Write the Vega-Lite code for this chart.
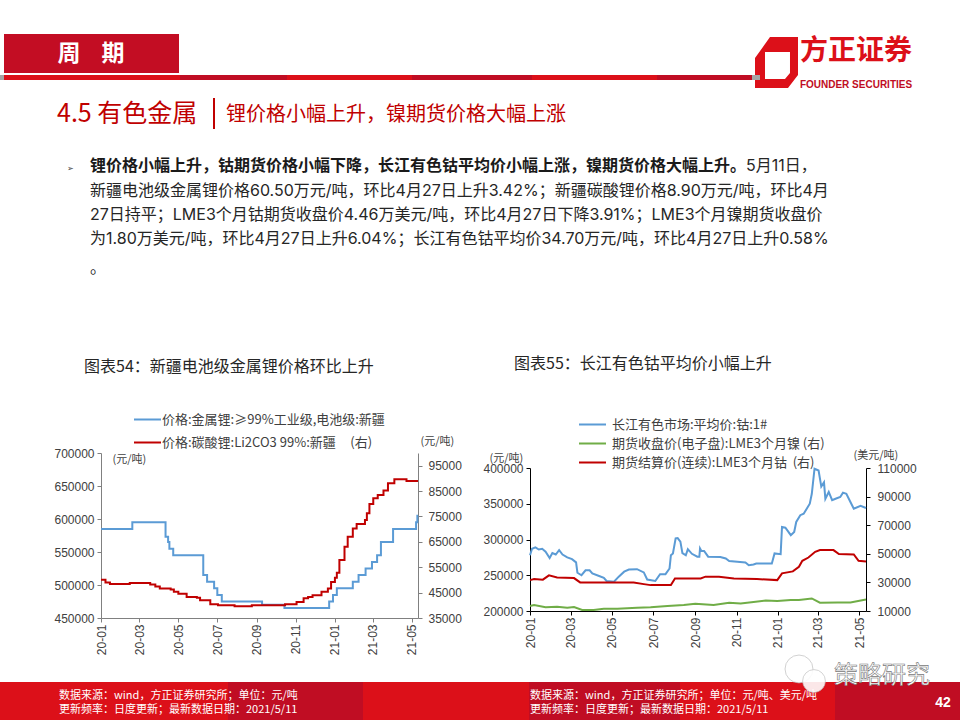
{
"$schema":"https://vega.github.io/schema/vega-lite/v6.json",
"padding":0,"background":"white","columns":4,"spacing":0,"bounds":"flush","align":"each",
"resolve":{"scale":{"color":"independent"},"legend":{"color":"independent"}},
"config":{"view":{"stroke":null},"font":"Noto Sans CJK SC","axis":{"grid":false,"labelFont":"Liberation Sans","labelFontSize":12,"labelColor":"#404040","labelOverlap":false,"labelFlush":false,"titleFont":"Noto Sans CJK SC","titleFontSize":11,"titleFontWeight":"normal","titleColor":"#404040","titleAngle":0,"titleAlign":"left","titleBaseline":"middle","tickSize":4},"legend":{"labelFont":"Noto Sans CJK SC","labelFontSize":13,"labelColor":"#404040","labelLimit":400,"symbolType":"stroke","symbolSize":729,"symbolStrokeWidth":2,"title":null}},
"datasets":{
"blank":[{}],
"li":[
{"date":"2020/01/01","series":"m","value":585000},{"date":"2020/02/19","series":"m","value":595000},{"date":"2020/04/11","series":"m","value":573000},{"date":"2020/04/15","series":"m","value":565000},{"date":"2020/04/17","series":"m","value":555000},{"date":"2020/04/23","series":"m","value":545000},{"date":"2020/06/09","series":"m","value":515000},{"date":"2020/06/15","series":"m","value":505000},{"date":"2020/06/26","series":"m","value":495000},{"date":"2020/07/01","series":"m","value":485000},{"date":"2020/07/08","series":"m","value":475000},{"date":"2020/09/09","series":"m","value":470000},{"date":"2020/10/14","series":"m","value":465000},{"date":"2020/12/23","series":"m","value":475000},{"date":"2020/12/29","series":"m","value":485000},{"date":"2021/01/04","series":"m","value":495000},{"date":"2021/01/29","series":"m","value":505000},{"date":"2021/02/07","series":"m","value":515000},{"date":"2021/02/18","series":"m","value":525000},{"date":"2021/02/28","series":"m","value":535000},{"date":"2021/03/08","series":"m","value":545000},{"date":"2021/03/14","series":"m","value":565000},{"date":"2021/04/02","series":"m","value":585000},{"date":"2021/05/08","series":"m","value":595000},{"date":"2021/05/10","series":"m","value":605000},{"date":"2021/05/11","series":"m","value":605000},
{"date":"2020/01/01","series":"c","value":50100},{"date":"2020/01/08","series":"c","value":49000},{"date":"2020/01/15","series":"c","value":48400},{"date":"2020/02/15","series":"c","value":48800},{"date":"2020/03/18","series":"c","value":48200},{"date":"2020/03/26","series":"c","value":47400},{"date":"2020/04/02","series":"c","value":46600},{"date":"2020/04/19","series":"c","value":46200},{"date":"2020/04/24","series":"c","value":45300},{"date":"2020/05/01","series":"c","value":44600},{"date":"2020/05/14","series":"c","value":43300},{"date":"2020/05/30","series":"c","value":43000},{"date":"2020/06/04","series":"c","value":42000},{"date":"2020/06/20","series":"c","value":40400},{"date":"2020/07/02","series":"c","value":40000},{"date":"2020/07/28","series":"c","value":39600},{"date":"2020/08/24","series":"c","value":40000},{"date":"2020/10/15","series":"c","value":40400},{"date":"2020/11/02","series":"c","value":41300},{"date":"2020/11/13","series":"c","value":42800},{"date":"2020/11/20","series":"c","value":43300},{"date":"2020/11/27","series":"c","value":44000},{"date":"2020/12/11","series":"c","value":45300},{"date":"2020/12/21","series":"c","value":46600},{"date":"2020/12/26","series":"c","value":49200},{"date":"2021/01/01","series":"c","value":50900},{"date":"2021/01/04","series":"c","value":52800},{"date":"2021/01/08","series":"c","value":57800},{"date":"2021/01/16","series":"c","value":63100},{"date":"2021/01/21","series":"c","value":67000},{"date":"2021/01/29","series":"c","value":70300},{"date":"2021/02/04","series":"c","value":72000},{"date":"2021/02/17","series":"c","value":73600},{"date":"2021/02/20","series":"c","value":76300},{"date":"2021/02/24","series":"c","value":79900},{"date":"2021/03/02","series":"c","value":82200},{"date":"2021/03/09","series":"c","value":83500},{"date":"2021/03/18","series":"c","value":85200},{"date":"2021/03/25","series":"c","value":88100},{"date":"2021/04/04","series":"c","value":89700},{"date":"2021/04/23","series":"c","value":89000},{"date":"2021/05/11","series":"c","value":89000}],
"cobalt":[
{"date":"2020/01/01","value":278000},{"date":"2020/01/04","value":287000},{"date":"2020/01/09","value":289000},{"date":"2020/01/14","value":286000},{"date":"2020/01/19","value":287000},{"date":"2020/01/24","value":283000},{"date":"2020/01/30","value":274000},{"date":"2020/02/03","value":281000},{"date":"2020/02/08","value":279000},{"date":"2020/02/13","value":285000},{"date":"2020/02/18","value":279000},{"date":"2020/02/25","value":275000},{"date":"2020/03/03","value":272500},{"date":"2020/03/09","value":268000},{"date":"2020/03/11","value":253500},{"date":"2020/03/17","value":250000},{"date":"2020/03/23","value":257000},{"date":"2020/03/29","value":257000},{"date":"2020/04/02","value":252500},{"date":"2020/04/12","value":249000},{"date":"2020/04/19","value":246500},{"date":"2020/04/23","value":242000},{"date":"2020/05/04","value":241000},{"date":"2020/05/11","value":248000},{"date":"2020/05/19","value":255000},{"date":"2020/05/26","value":258000},{"date":"2020/06/07","value":258500},{"date":"2020/06/17","value":254000},{"date":"2020/06/22","value":244000},{"date":"2020/07/04","value":242000},{"date":"2020/07/11","value":251500},{"date":"2020/07/19","value":251500},{"date":"2020/07/25","value":259500},{"date":"2020/07/27","value":278000},{"date":"2020/07/30","value":280500},{"date":"2020/08/03","value":301500},{"date":"2020/08/06","value":302000},{"date":"2020/08/10","value":297000},{"date":"2020/08/13","value":281000},{"date":"2020/08/18","value":278000},{"date":"2020/08/21","value":286500},{"date":"2020/08/27","value":280000},{"date":"2020/09/04","value":276000},{"date":"2020/09/07","value":276000},{"date":"2020/09/08","value":287500},{"date":"2020/09/10","value":284000},{"date":"2020/09/14","value":284000},{"date":"2020/09/20","value":276000},{"date":"2020/10/08","value":275500},{"date":"2020/10/16","value":273500},{"date":"2020/10/21","value":270000},{"date":"2020/11/02","value":269000},{"date":"2020/11/14","value":268000},{"date":"2020/11/19","value":264000},{"date":"2020/11/26","value":265000},{"date":"2020/11/30","value":266500},{"date":"2020/12/23","value":266500},{"date":"2020/12/27","value":280500},{"date":"2021/01/05","value":279500},{"date":"2021/01/07","value":317500},{"date":"2021/01/12","value":316500},{"date":"2021/01/20","value":306000},{"date":"2021/01/25","value":310500},{"date":"2021/01/28","value":324500},{"date":"2021/02/03","value":334000},{"date":"2021/02/08","value":336000},{"date":"2021/02/17","value":350000},{"date":"2021/02/20","value":364000},{"date":"2021/02/24","value":399000},{"date":"2021/03/02","value":396500},{"date":"2021/03/06","value":374000},{"date":"2021/03/10","value":380000},{"date":"2021/03/12","value":357000},{"date":"2021/03/17","value":366500},{"date":"2021/03/22","value":355000},{"date":"2021/03/27","value":357000},{"date":"2021/04/03","value":359500},{"date":"2021/04/07","value":365500},{"date":"2021/04/12","value":364000},{"date":"2021/04/18","value":352500},{"date":"2021/04/23","value":343000},{"date":"2021/05/03","value":347000},{"date":"2021/05/11","value":344000}],
"lme":[
{"date":"2020/01/01","series":"n","value":13500},{"date":"2020/01/07","series":"n","value":14200},{"date":"2020/01/24","series":"n","value":12600},{"date":"2020/02/10","series":"n","value":13000},{"date":"2020/02/25","series":"n","value":12300},{"date":"2020/03/06","series":"n","value":12800},{"date":"2020/03/18","series":"n","value":10700},{"date":"2020/04/04","series":"n","value":10700},{"date":"2020/04/19","series":"n","value":11600},{"date":"2020/05/09","series":"n","value":11600},{"date":"2020/06/07","series":"n","value":12300},{"date":"2020/06/27","series":"n","value":12600},{"date":"2020/07/22","series":"n","value":13500},{"date":"2020/08/15","series":"n","value":14200},{"date":"2020/09/01","series":"n","value":15100},{"date":"2020/09/28","series":"n","value":14200},{"date":"2020/10/21","series":"n","value":15800},{"date":"2020/11/07","series":"n","value":15300},{"date":"2020/11/26","series":"n","value":16300},{"date":"2020/12/14","series":"n","value":17400},{"date":"2020/12/31","series":"n","value":17000},{"date":"2021/01/20","series":"n","value":17700},{"date":"2021/02/01","series":"n","value":17700},{"date":"2021/02/20","series":"n","value":18800},{"date":"2021/03/04","series":"n","value":15800},{"date":"2021/03/30","series":"n","value":16000},{"date":"2021/04/18","series":"n","value":16000},{"date":"2021/05/11","series":"n","value":18000},
{"date":"2020/01/01","series":"s","value":31600},{"date":"2020/01/07","series":"s","value":32300},{"date":"2020/01/20","series":"s","value":31900},{"date":"2020/01/29","series":"s","value":34900},{"date":"2020/02/10","series":"s","value":33500},{"date":"2020/03/06","series":"s","value":33000},{"date":"2020/03/15","series":"s","value":30000},{"date":"2020/06/02","series":"s","value":30000},{"date":"2020/06/17","series":"s","value":28800},{"date":"2020/06/27","series":"s","value":28100},{"date":"2020/07/27","series":"s","value":28100},{"date":"2020/08/02","series":"s","value":32800},{"date":"2020/09/09","series":"s","value":32800},{"date":"2020/09/16","series":"s","value":34000},{"date":"2020/10/06","series":"s","value":34000},{"date":"2020/10/28","series":"s","value":32800},{"date":"2020/12/01","series":"s","value":32300},{"date":"2020/12/31","series":"s","value":31600},{"date":"2021/01/07","series":"s","value":36300},{"date":"2021/01/23","series":"s","value":37700},{"date":"2021/02/01","series":"s","value":40900},{"date":"2021/02/06","series":"s","value":45100},{"date":"2021/02/15","series":"s","value":47400},{"date":"2021/02/25","series":"s","value":51400},{"date":"2021/03/04","series":"s","value":52600},{"date":"2021/03/24","series":"s","value":52600},{"date":"2021/04/01","series":"s","value":49800},{"date":"2021/04/23","series":"s","value":49500},{"date":"2021/04/30","series":"s","value":45100},{"date":"2021/05/11","series":"s","value":44600}]
},
"concat":[
{"width":101,"height":453,"data":{"name":"blank"},"layer":[
{"mark":{"type":"rect","x":0,"x2":960,"y":0,"y2":720,"fill":"white"}},
{"mark":{"type":"rect","x":4,"x2":179,"y":34,"y2":73,"fill":"#C30D23"}},
{"mark":{"type":"text","x":91,"y":54,"text":"周\u00a0\u00a0\u00a0\u00a0期","fontSize":23,"fontWeight":"bold","fill":"white","align":"center","baseline":"middle"}},
{"mark":{"type":"rect","x":4,"x2":180,"y":75,"y2":80,"fill":"#DC1019"}},
{"mark":{"type":"rect","x":180,"x2":287,"y":75,"y2":80,"fill":"#C00D23"}},
{"mark":{"type":"rect","x":287,"x2":412,"y":75,"y2":80,"fill":"#DC1019"}},
{"mark":{"type":"rect","x":412,"x2":532,"y":75,"y2":80,"fill":"#C00D23"}},
{"mark":{"type":"rect","x":532,"x2":657,"y":75,"y2":80,"fill":"#DC1019"}},
{"mark":{"type":"rect","x":657,"x2":752,"y":75,"y2":80,"fill":"#C00D23"}},
{"mark":{"type":"rect","x":0,"x2":4,"y":75,"y2":80,"fill":"#A6A6A6"}},
{"mark":{"type":"point","shape":"M-.255,-1L.843,-1L.843,.49L.451,1L-.843,1L-.843,-.176ZM-.451,-.412L-.451,.647L.333,.647L.529,.412L.529,-.412Z","filled":true,"fill":"#DC1019","opacity":1,"stroke":null,"x":776.5,"y":62.5,"size":2601}},
{"mark":{"type":"rect","x":752,"x2":760,"y":75,"y2":80,"fill":"#A6A6A6"}},
{"mark":{"type":"text","x":856,"y":52,"text":"方正证券","fontSize":28,"fontWeight":"bold","fill":"#DC1019","align":"center","baseline":"middle"}},
{"mark":{"type":"text","x":856,"y":85,"text":"FOUNDER SECURITIES","font":"Liberation Sans","fontSize":10,"fontWeight":"bold","fill":"#C00D23","align":"center","baseline":"middle"}},
{"mark":{"type":"text","x":57,"y":114,"text":"4.5 有色金属","fontSize":25,"fill":"#C00000","align":"left","baseline":"middle"}},
{"mark":{"type":"rect","x":213,"x2":215,"y":98,"y2":129,"fill":"#C00000"}},
{"mark":{"type":"text","x":226,"y":115,"text":"锂价格小幅上升，镍期货价格大幅上涨","fontSize":20,"fill":"#C00000","align":"left","baseline":"middle"}},
{"mark":{"type":"text","x":70,"y":169,"text":"➢","fontSize":8,"fill":"#404040","align":"center","baseline":"middle"}},
{"mark":{"type":"text","x":90,"y":166,"text":"锂价格小幅上升，钴期货价格小幅下降，长江有色钴平均价小幅上涨，镍期货价格大幅上升。","fontSize":16,"fontWeight":"bold","fill":"#1a1a1a","align":"left","baseline":"middle"}},
{"mark":{"type":"text","x":746,"y":166,"text":"5月11日，","font":"Inter, Noto Sans CJK SC","fontSize":16,"fill":"#262626","align":"left","baseline":"middle"}},
{"mark":{"type":"text","x":90,"y":190.5,"text":"新疆电池级金属锂价格60.50万元/吨，环比4月27日上升3.42%；新疆碳酸锂价格8.90万元/吨，环比4月","font":"Inter, Noto Sans CJK SC","fontSize":16,"fill":"#262626","align":"left","baseline":"middle"}},
{"mark":{"type":"text","x":90,"y":215,"text":"27日持平；LME3个月钴期货收盘价4.46万美元/吨，环比4月27日下降3.91%；LME3个月镍期货收盘价","font":"Inter, Noto Sans CJK SC","fontSize":16,"fill":"#262626","align":"left","baseline":"middle"}},
{"mark":{"type":"text","x":90,"y":239,"text":"为1.80万美元/吨，环比4月27日上升6.04%；长江有色钴平均价34.70万元/吨，环比4月27日上升0.58%","font":"Inter, Noto Sans CJK SC","fontSize":16,"fill":"#262626","align":"left","baseline":"middle"}},
{"mark":{"type":"text","x":90,"y":268,"text":"。","fontSize":16,"fill":"#262626","align":"left","baseline":"middle"}},
{"mark":{"type":"text","x":84,"y":367,"text":"图表54：新疆电池级金属锂价格环比上升","fontSize":16,"fill":"#262626","align":"left","baseline":"middle"}},
{"mark":{"type":"text","x":514,"y":364,"text":"图表55：长江有色钴平均价小幅上升","fontSize":16,"fill":"#262626","align":"left","baseline":"middle"}},
{"mark":{"type":"rect","x":0,"x2":960,"y":682,"y2":720,"fill":"#DC1019"}},
{"mark":{"type":"rect","x":228,"x2":363,"y":682,"y2":720,"fill":"#C00D23"}},
{"mark":{"type":"rect","x":529,"x2":680,"y":682,"y2":720,"fill":"#C00D23"}},
{"mark":{"type":"rect","x":835,"x2":960,"y":682,"y2":720,"fill":"#C00D23"}},
{"mark":{"type":"text","x":59,"y":696,"text":"数据来源：wind，方正证券研究所；单位：元/吨","fontSize":11,"fill":"white","align":"left","baseline":"middle"}},
{"mark":{"type":"text","x":59,"y":710,"text":"更新频率：日度更新；最新数据日期：2021/5/11","fontSize":11,"fill":"white","align":"left","baseline":"middle"}},
{"mark":{"type":"text","x":530,"y":696,"text":"数据来源：wind，方正证券研究所；单位：元/吨、美元/吨","fontSize":11,"fill":"white","align":"left","baseline":"middle"}},
{"mark":{"type":"text","x":530,"y":710,"text":"更新频率：日度更新；最新数据日期：2021/5/11","fontSize":11,"fill":"white","align":"left","baseline":"middle"}},
{"mark":{"type":"text","x":943,"y":703,"text":"42","font":"Liberation Sans","fontSize":14,"fontWeight":"bold","fill":"white","align":"center","baseline":"middle"}},
{"mark":{"type":"point","shape":"circle","filled":true,"fill":"white","stroke":"#BBBBBB","strokeWidth":0.7,"opacity":0.95,"x":799,"y":669,"size":780}},
{"mark":{"type":"point","shape":"circle","filled":true,"fill":"white","stroke":"#BBBBBB","strokeWidth":0.7,"opacity":0.9,"x":814,"y":681,"size":520}},
{"mark":{"type":"text","x":834,"y":676,"text":"策略研究","fontSize":24,"fill":"white","stroke":"#777777","strokeWidth":0.6,"align":"left","baseline":"middle"}}
]},
{"width":1,"height":1,"data":{"name":"blank"},"mark":{"type":"rect","opacity":0},"encoding":{}},
{"width":1,"height":1,"data":{"name":"blank"},"mark":{"type":"rect","opacity":0},"encoding":{}},
{"width":1,"height":1,"data":{"name":"blank"},"mark":{"type":"rect","opacity":0},"encoding":{}},
{"width":101,"height":165,"data":{"name":"blank"},"mark":{"type":"rect","opacity":0},"encoding":{}},
{"width":317,"height":165,"data":{"name":"li"},
"encoding":{"x":{"field":"date","type":"temporal","axis":{"title":null,"format":"%y-%m","tickCount":{"interval":"month","step":2},"labelAngle":270,"labelAlign":"right","labelBaseline":"middle","labelPadding":2,"domainColor":"#808080","tickColor":"#808080"}},
"color":{"field":"series","type":"nominal","scale":{"domain":["价格:金属锂:≥99%工业级,电池级:新疆","价格:碳酸锂:Li2CO3 99%:新疆\u00a0\u00a0\u00a0\u00a0\u00a0(右)"],"range":["#5B9BD5","#C00000"]},"legend":{"orient":"none","legendX":32,"legendY":-48,"rowPadding":1,"labelOffset":0}}},
"layer":[
{"transform":[{"filter":"datum.series==='m'"},{"calculate":"'价格:金属锂:≥99%工业级,电池级:新疆'","as":"series"}],"mark":{"type":"line","strokeWidth":2,"interpolate":"step-after"},"encoding":{"y":{"field":"value","type":"quantitative","scale":{"domain":[450000,700000],"nice":false,"zero":false},"axis":{"title":"(元/吨)","titleX":11,"titleY":6,"format":"d","values":[450000,500000,550000,600000,650000,700000],"domainColor":"#808080","tickColor":"#808080","labelPadding":3}}}},
{"transform":[{"filter":"datum.series==='c'"},{"calculate":"'价格:碳酸锂:Li2CO3 99%:新疆\u00a0\u00a0\u00a0\u00a0\u00a0(右)'","as":"series"}],"mark":{"type":"line","strokeWidth":2,"interpolate":"step-after"},"encoding":{"y":{"field":"value","type":"quantitative","scale":{"domain":[35000,100000],"nice":false,"zero":false},"axis":{"orient":"right","title":"(元/吨)","titleX":2,"titleY":-12,"format":"d","values":[35000,45000,55000,65000,75000,85000,95000],"domainColor":"#808080","tickColor":"#808080","labelPadding":6}}}}
],"resolve":{"scale":{"y":"independent"}}},
{"width":112,"height":1,"data":{"name":"blank"},"mark":{"type":"rect","opacity":0},"encoding":{}},
{"width":336,"height":158,
"encoding":{"x":{"field":"date","type":"temporal","axis":{"title":null,"format":"%y-%m","tickCount":{"interval":"month","step":2},"labelAngle":270,"labelAlign":"right","labelBaseline":"middle","labelPadding":2,"domainColor":"#000000","tickColor":"#000000"}},
"color":{"field":"series","type":"nominal","scale":{"domain":["长江有色市场:平均价:钴:1#","期货收盘价(电子盘):LME3个月镍 (右)","期货结算价(连续):LME3个月钴\u00a0\u00a0(右)"],"range":["#5B9BD5","#70AD47","#C00000"]},"legend":{"orient":"none","legendX":48,"legendY":-38,"rowPadding":0,"clipHeight":19,"labelOffset":5}}},
"layer":[
{"data":{"name":"cobalt"},"transform":[{"calculate":"'长江有色市场:平均价:钴:1#'","as":"series"}],"mark":{"type":"line","strokeWidth":2},"encoding":{"y":{"field":"value","type":"quantitative","scale":{"domain":[200000,400000],"range":[158,15],"nice":false,"zero":false},"axis":{"title":"(元/吨)","titleX":-41,"titleY":5,"format":"d","values":[200000,250000,300000,350000,400000],"domainColor":"#000000","tickColor":"#000000","labelPadding":3}}}},
{"data":{"name":"lme"},"transform":[{"calculate":"datum.series==='n'?'期货收盘价(电子盘):LME3个月镍 (右)':'期货结算价(连续):LME3个月钴\u00a0\u00a0(右)'","as":"series"}],"mark":{"type":"line","strokeWidth":2},"encoding":{"y":{"field":"value","type":"quantitative","scale":{"domain":[10000,110000],"range":[158,15],"nice":false,"zero":false},"axis":{"orient":"right","title":"(美元/吨)","titleX":-13,"titleY":2,"format":"d","values":[10000,30000,50000,70000,90000,110000],"domainColor":"#000000","tickColor":"#000000","labelPadding":7}}}}
],"resolve":{"scale":{"y":"independent"}}}
]
}
